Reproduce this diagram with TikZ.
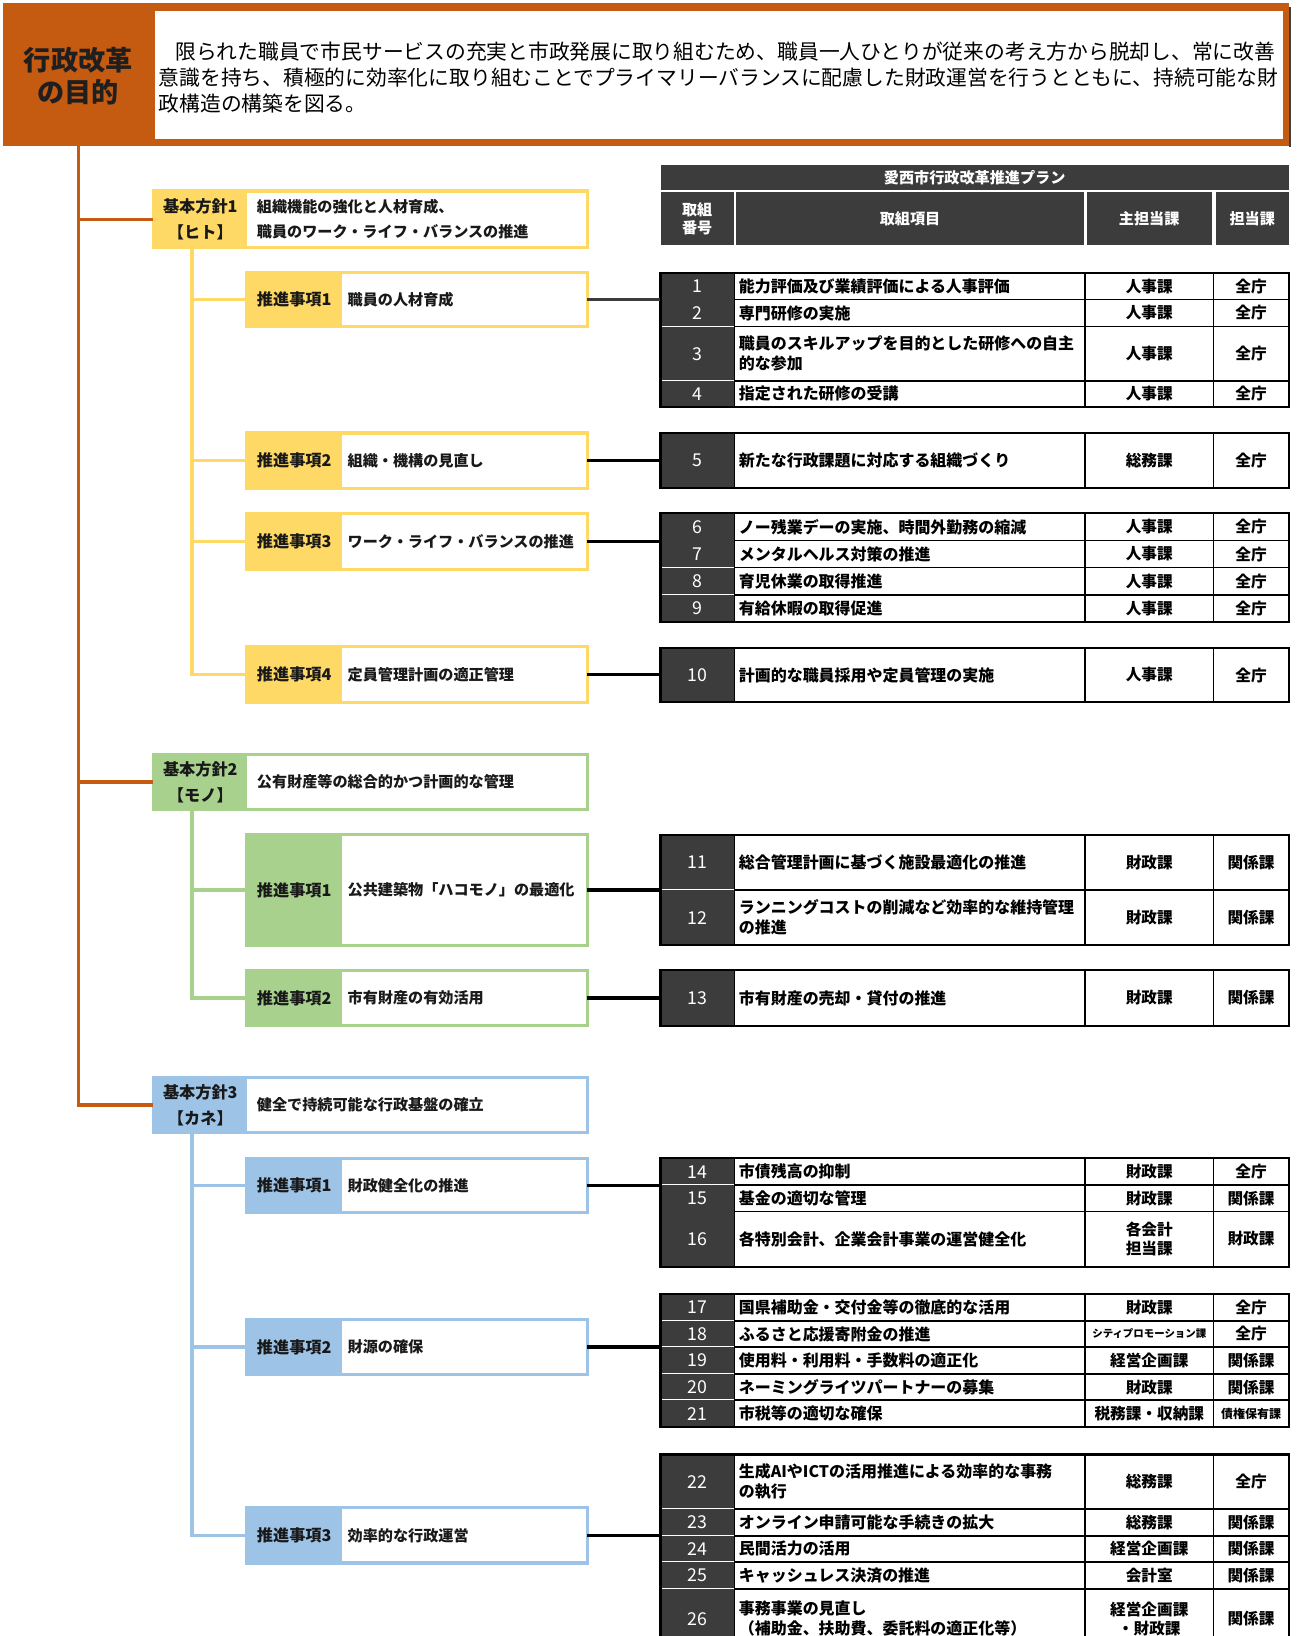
\documentclass[tikz,border=0pt]{standalone}
\usepackage{fontspec}
\setmainfont{Noto Sans CJK JP}
\usetikzlibrary{calc}
\definecolor{orgC}{HTML}{C55A11}
\definecolor{yelC}{HTML}{FFD966}
\definecolor{grnC}{HTML}{A9D18E}
\definecolor{bluC}{HTML}{9DC3E6}
\definecolor{darkC}{HTML}{3C3C3C}
\tikzset{
  kbox/.style={draw=#1, line width=3pt, fill=white, anchor=north west, inner sep=0pt, outer sep=0pt},
  lbl/.style={font=\bfseries\fontsize{15.5}{25}\selectfont, align=center, inner sep=0pt, text=black!90},
  btxt/.style={font=\bfseries\fontsize{14.5}{24}\selectfont, align=left, anchor=west, inner sep=0pt, text=black!90},
  cell/.style={draw=black, line width=1.5pt},
  numt/.style={font=\fontsize{17}{19}\selectfont, text=white, inner sep=0pt},
  itemt/.style={font=\bfseries\fontsize{15.3}{19}\selectfont, anchor=west, align=left, inner sep=0pt},
  deptt/.style={font=\bfseries\fontsize{15}{18}\selectfont, align=center, inner sep=0pt},
  tgrp/.style={draw=black, line width=2pt, anchor=north west, inner sep=0pt, outer sep=0pt, minimum width=602pt},
  hcell/.style={fill=darkC, text=white, anchor=north west, inner sep=0pt, font=\bfseries\fontsize{14.5}{17}\selectfont, align=center},
  conn/.style={draw=black, line width=3pt},
  orgln/.style={draw=orgC, line width=3pt},
}
\newcommand{\kihonbox}[6]{% name, color, ytop, height, label, text
  \node[kbox=#2, minimum width=416pt, minimum height=#4pt] (#1) at (147,#3) {};
  \fill[#2] (#1.north west) rectangle ($(#1.south west)+(90,0)$);
  \node[lbl] (#1l) at ($(#1.west)+(45,0)$) {#5};
  \node[btxt] (#1t) at ($(#1.west)+(99,0)$) {#6};
}
\newcommand{\suishinbox}[6]{% name, color, ytop, height, label, text
  \node[kbox=#2, minimum width=327pt, minimum height=#4pt] (#1) at (236,#3) {};
  \fill[#2] (#1.north west) rectangle ($(#1.south west)+(92,0)$);
  \node[lbl] (#1l) at ($(#1.west)+(46,0)$) {#5};
  \node[btxt] (#1t) at ($(#1.west)+(97,0)$) {#6};
}
\newcommand{\trow}[6]{% ytop, ybot, num, item, main, sub
  \fill[darkC] (633,#1) rectangle (704,#2);
  \draw[cell] (704,#1) rectangle (1040,#2);
  \draw[cell] (1040,#1) rectangle (1163,#2);
  \draw[cell] (1163,#1) rectangle (1235,#2);
  \draw[white, line width=1.5pt] (634,#2) -- (703.2,#2);
  \node[numt] (num#3) at (668.5,{(#1+#2)/2}) {#3};
  \node[itemt] (item#3) at (708,{(#1+#2)/2}) {#4};
  \node[deptt] (main#3) at (1101.5,{(#1+#2)/2}) {#5};
  \node[deptt] (sub#3) at (1199,{(#1+#2)/2}) {#6};
}
\begin{document}
\begin{tikzpicture}[x=1pt,y=-1pt]
\useasboundingbox (0,0) rectangle (1245,1568);
\clip (0,0) rectangle (1245,1568);

% ---------- header ----------
\fill[black!75] (1235,7) rectangle (1237.5,141);
\node[fill=orgC, anchor=north west, inner sep=0pt, outer sep=0pt, minimum width=1232pt, minimum height=137pt] (head) at (3,3) {};
\node[fill=white, anchor=north west, inner sep=0pt, minimum width=1081pt, minimum height=123pt] (purposebox) at (148,10) {};
\node[font=\bfseries\fontsize{26}{30}\selectfont, align=center, text=black!88, inner sep=0pt] (goal) at (75,73) {行政改革\\の目的};
\node[font=\fontsize{19.9}{25}\selectfont, align=left, anchor=west, inner sep=0pt] (purpose) at (152,74)
 {\hspace*{-4pt}　限られた職員で市民サービスの充実と市政発展に取り組むため、職員一人ひとりが従来の考え方から脱却し、常に改善\\
  意識を持ち、積極的に効率化に取り組むことでプライマリーバランスに配慮した財政運営を行うとともに、持続可能な財\\
  政構造の構築を図る。};
\coordinate (root) at ($(head.south west)+(72,0)$);

% ---------- tree boxes ----------
\kihonbox{k1}{yelC}{183}{54}{基本方針1\\【ヒト】}{組織機能の強化と人材育成、\\職員のワーク・ライフ・バランスの推進}
\suishinbox{sA1}{yelC}{261}{52}{推進事項1}{職員の人材育成}
\suishinbox{sA2}{yelC}{415}{53}{推進事項2}{組織・機構の見直し}
\suishinbox{sA3}{yelC}{492}{54}{推進事項3}{ワーク・ライフ・バランスの推進}
\suishinbox{sA4}{yelC}{620}{53}{推進事項4}{定員管理計画の適正管理}

\kihonbox{k2}{grnC}{723}{53}{基本方針2\\【モノ】}{公有財産等の総合的かつ計画的な管理}
\suishinbox{sB1}{grnC}{800}{106}{推進事項1}{公共建築物「ハコモノ」の最適化}
\suishinbox{sB2}{grnC}{930}{53}{推進事項2}{市有財産の有効活用}

\kihonbox{k3}{bluC}{1033}{52}{基本方針3\\【カネ】}{健全で持続可能な行政基盤の確立}
\suishinbox{sC1}{bluC}{1110}{52}{推進事項1}{財政健全化の推進}
\suishinbox{sC2}{bluC}{1265}{52}{推進事項2}{財源の確保}
\suishinbox{sC3}{bluC}{1445}{53}{推進事項3}{効率的な行政運営}

% ---------- tree lines ----------
\draw[orgln] (root) |- (k1.west);
\draw[orgln] (root) |- (k2.west);
\draw[orgln] (root) |- (k3.west);
\coordinate (k1v) at ($(k1.south west)+(37,0)$);
\coordinate (k2v) at ($(k2.south west)+(37,0)$);
\coordinate (k3v) at ($(k3.south west)+(37,0)$);
\foreach \s in {sA1,sA2,sA3,sA4} \draw[yelC, line width=3pt] (k1v) |- (\s.west);
\foreach \s in {sB1,sB2} \draw[grnC, line width=3pt] (k2v) |- (\s.west);
\foreach \s in {sC1,sC2,sC3} \draw[bluC, line width=3pt] (k3v) |- (\s.west);

% ---------- table header ----------
\node[hcell, minimum width=602pt, minimum height=24pt] (plan) at (633,158) {愛西市行政改革推進プラン};
\node[hcell, minimum width=70pt, minimum height=51pt] (h1) at (633,184) {取組\\番号};
\node[hcell, minimum width=333pt, minimum height=51pt] (h2) at (705.5,184) {取組項目};
\node[hcell, minimum width=119.5pt, minimum height=51pt] (h3) at (1041.5,184) {主担当課};
\node[hcell, minimum width=70pt, minimum height=51pt] (h4) at (1165,184) {担当課};

% ---------- table rows ----------
\trow{262}{287}{1}{能力評価及び業績評価による人事評価}{人事課}{全庁}
\trow{287}{313}{2}{専門研修の実施}{人事課}{全庁}
\trow{313}{365}{3}{職員のスキルアップを目的とした研修への自主\\的な参加}{人事課}{全庁}
\trow{365}{390}{4}{指定された研修の受講}{人事課}{全庁}
\node[tgrp, minimum height=128pt] (tA) at (633,262) {};

\trow{415}{468}{5}{新たな行政課題に対応する組織づくり}{総務課}{全庁}
\node[tgrp, minimum height=53pt] (tB) at (633,415) {};

\trow{492}{518}{6}{ノー残業デーの実施、時間外勤務の縮減}{人事課}{全庁}
\trow{518}{544}{7}{メンタルヘルス対策の推進}{人事課}{全庁}
\trow{544}{570}{8}{育児休業の取得推進}{人事課}{全庁}
\trow{570}{596}{9}{有給休暇の取得促進}{人事課}{全庁}
\node[tgrp, minimum height=104pt] (tC) at (633,492) {};

\trow{621}{673}{10}{計画的な職員採用や定員管理の実施}{人事課}{全庁}
\node[tgrp, minimum height=52pt] (tD) at (633,621) {};

\trow{800}{853}{11}{総合管理計画に基づく施設最適化の推進}{財政課}{関係課}
\trow{853}{906}{12}{ランニングコストの削減など効率的な維持管理\\の推進}{財政課}{関係課}
\node[tgrp, minimum height=106pt] (tE) at (633,800) {};

\trow{930}{983}{13}{市有財産の売却・貸付の推進}{財政課}{関係課}
\node[tgrp, minimum height=53pt] (tF) at (633,930) {};

\trow{1110}{1136}{14}{市債残高の抑制}{財政課}{全庁}
\trow{1136}{1161}{15}{基金の適切な管理}{財政課}{関係課}
\trow{1161}{1214}{16}{各特別会計、企業会計事業の運営健全化}{各会計\\担当課}{財政課}
\node[tgrp, minimum height=104pt] (tG) at (633,1110) {};

\trow{1240}{1266}{17}{国県補助金・交付金等の徹底的な活用}{財政課}{全庁}
\trow{1266}{1291}{18}{ふるさと応援寄附金の推進}{{\fontsize{10}{12}\selectfont シティプロモーション課}}{全庁}
\trow{1291}{1317}{19}{使用料・利用料・手数料の適正化}{経営企画課}{関係課}
\trow{1317}{1342}{20}{ネーミングライツパートナーの募集}{財政課}{関係課}
\trow{1342}{1368}{21}{市税等の適切な確保}{税務課・収納課}{{\fontsize{11.5}{13}\selectfont 債権保有課}}
\node[tgrp, minimum height=128pt] (tH) at (633,1240) {};

\trow{1394}{1446}{22}{生成AIやICTの活用推進による効率的な事務\\の執行}{総務課}{全庁}
\trow{1446}{1472}{23}{オンライン申請可能な手続きの拡大}{総務課}{関係課}
\trow{1472}{1497}{24}{民間活力の活用}{経営企画課}{関係課}
\trow{1497}{1523}{25}{キャッシュレス決済の推進}{会計室}{関係課}
\trow{1523}{1580}{26}{事務事業の見直し\\（補助金、扶助費、委託料の適正化等）}{経営企画課\\・財政課}{関係課}
\node[tgrp, minimum height=186pt] (tI) at (633,1394) {};

% ---------- connectors ----------
\draw[draw=darkC, line width=2.2pt] (sA1.east) -- (sA1.east -| tA.west);
\draw[conn] (sA2.east) -- (sA2.east -| tB.west);
\draw[conn] (sA3.east) -- (sA3.east -| tC.west);
\draw[conn] (sA4.east) -- (sA4.east -| tD.west);
\draw[conn] (sB1.east) -- (sB1.east -| tE.west);
\draw[conn] (sB2.east) -- (sB2.east -| tF.west);
\draw[conn] (sC1.east) -- (sC1.east -| tG.west);
\draw[conn] (sC2.east) -- (sC2.east -| tH.west);
\draw[conn] (sC3.east) -- (sC3.east -| tI.west);
\end{tikzpicture}
\end{document}
